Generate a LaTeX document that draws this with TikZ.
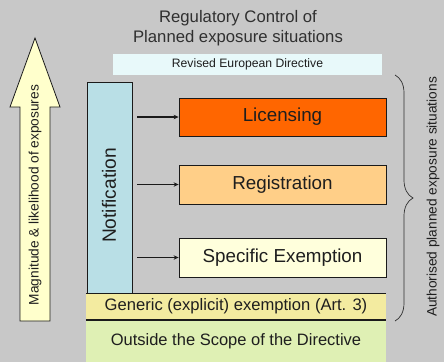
\documentclass[tikz,border=0pt]{standalone}
\usepackage{fontspec}
\setmainfont{Liberation Sans}
\usetikzlibrary{arrows.meta,decorations.pathreplacing}
\definecolor{bgc}{HTML}{C8C8C8}
\definecolor{txtc}{HTML}{1E1E1E}
\definecolor{titc}{HTML}{303030}
\definecolor{revc}{HTML}{E8F9FA}
\definecolor{notc}{HTML}{B9DFE6}
\definecolor{licc}{HTML}{FF6600}
\definecolor{regc}{HTML}{FFCF88}
\definecolor{spec}{HTML}{FFFFDC}
\definecolor{genc}{HTML}{F3EBA0}
\definecolor{outc}{HTML}{DFF0B4}
\definecolor{arrc}{HTML}{FFFFCC}
\definecolor{linec}{HTML}{1A1A1A}
\begin{document}
\begin{tikzpicture}[x=1pt,y=-1pt,
  box/.style={draw=linec, line width=0.8pt, inner sep=0pt, text=txtc},
  bigbox/.style={box, minimum width=207pt, font=\fontsize{18.8}{22}\selectfont},
  conn/.style={draw=linec, line width=1.1pt, -{Stealth[length=5pt,width=4.5pt]}, shorten <=5pt},
  band/.style={inner sep=0pt, minimum width=300pt, text=txtc}
]
\fill[bgc] (0,0) rectangle (444,362);
\useasboundingbox (0,0) rectangle (444,362);

% title
\node[font=\fontsize{16.7}{20}\selectfont, align=center, text=titc] (title) at (238,28) {Regulatory Control of\\Planned exposure situations};

% revised directive
\node[fill=revc, inner sep=0pt, minimum width=269pt, minimum height=21pt, font=\fontsize{12.2}{14}\selectfont, text=txtc] (rev) at (247.5,64.5) {Revised European Directive};

% big up arrow
\draw[draw=linec, line width=0.8pt, fill=arrc] (35,38) -- (60,107) -- (50,107) -- (50,321) -- (20,321) -- (20,107) -- (10,107) -- cycle;
\node[rotate=90, font=\fontsize{13.7}{16}\selectfont, text=txtc] (mag) at (35,195) {Magnitude \& likelihood of exposures};

% bands
\node[band, fill=outc, minimum height=42pt, font=\fontsize{16.5}{19}\selectfont] (out) at (236,341) {Outside the Scope of the Directive};
\node[band, fill=genc, minimum height=27pt, font=\fontsize{16.6}{19}\selectfont] (gen) at (236,306.5) {Generic (explicit) exemption (Art. 3)};
\draw[linec, line width=0.6pt] (gen.north west) -- (gen.north east);
\draw[linec, line width=1.6pt] (gen.south west) -- (gen.south east);

% notification
\node[box, fill=notc, minimum width=45pt, minimum height=211pt] (notif) at (109.5,187.5) {};
\node[rotate=90, font=\fontsize{19.2}{22}\selectfont, text=txtc] (notift) at (109,195.5) {Notification};

% boxes
\node[bigbox, fill=licc, minimum height=38pt] (lic) at (282.5,117) {Licensing};
\node[bigbox, fill=regc, minimum height=39pt] (reg) at (282.5,184.5) {Registration};
\node[bigbox, fill=spec, minimum height=39pt] (spe) at (282.5,257.5) {Specific Exemption};

\draw[conn] (notif.east |- lic.west) -- (lic.west);
\draw[conn] (notif.east |- reg.west) -- (reg.west);
\draw[conn] (notif.east |- spe.west) -- (spe.west);

% brace
\coordinate (bt) at (395,75);
\coordinate (bb) at (395,321);
\draw[draw=titc, line width=0.7pt, decorate, decoration={brace, amplitude=18pt}] (bt) -- (bb);
\node[rotate=90, font=\fontsize{13.7}{16}\selectfont, text=txtc] (auth) at (433,197) {Authorised planned exposure situations};
\end{tikzpicture}
\end{document}
